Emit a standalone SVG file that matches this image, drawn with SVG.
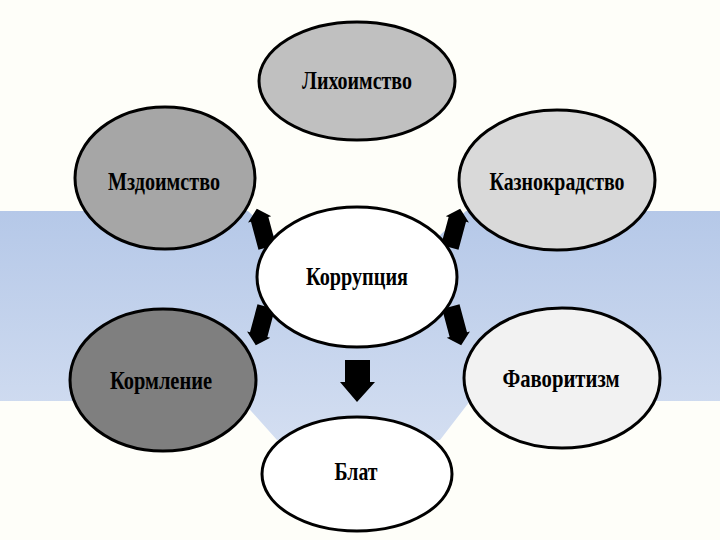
<svg xmlns="http://www.w3.org/2000/svg" width="720" height="540" viewBox="0 0 720 540">
<defs>
<linearGradient id="band" x1="0" y1="0" x2="0" y2="1">
<stop offset="0" stop-color="#B5C8E8"/>
<stop offset="1" stop-color="#D3DEF1"/>
</linearGradient>
<polygon id="arr" points="0,-20 12,-9 9,-9 9,20 -9,20 -9,-9 -12,-9"/>
</defs>
<style>
.n{stroke:#000;stroke-width:3}
.t{font-family:"Liberation Serif","Times New Roman",serif;font-weight:bold;font-size:25px;fill:#000;text-anchor:middle}
.a{fill:#000}
</style>
<rect width="720" height="540" fill="#FEFEF9"/>
<polygon fill="url(#band)" points="0,211 248,211 290,250 424,250 466,211 720,211 720,401 470,401 440,440 277,440 242,401 0,401"/>
<g id="connectors">
<use href="#arr" class="a" transform="translate(262,228) rotate(-15)"/>
<use href="#arr" class="a" transform="translate(455,228) rotate(15)"/>
<use href="#arr" class="a" transform="translate(261,326) rotate(195)"/>
<use href="#arr" class="a" transform="translate(456,326) rotate(165)"/>
<polygon class="a" points="345,360 370,360 370,382 375,382 357,402 340,382 345,382"/>
</g>
<g id="node-lihoimstvo">
<ellipse class="n" cx="357" cy="81" rx="98" ry="59" fill="#C0C0C0"/>
<text class="t" x="357" y="89" textLength="110" lengthAdjust="spacingAndGlyphs">Лихоимство</text>
</g>
<g id="node-mzdoimstvo">
<ellipse class="n" cx="165" cy="178" rx="90" ry="71" fill="#A6A6A6"/>
<text class="t" x="164" y="190" textLength="112" lengthAdjust="spacingAndGlyphs">Мздоимство</text>
</g>
<g id="node-kaznokradstvo">
<ellipse class="n" cx="557" cy="180" rx="98" ry="70" fill="#D9D9D9"/>
<text class="t" x="557" y="190" textLength="135" lengthAdjust="spacingAndGlyphs">Казнокрадство</text>
</g>
<g id="node-korruptsiya">
<ellipse class="n" cx="357" cy="277" rx="100" ry="70" fill="#FFFFFF"/>
<text class="t" x="357" y="285" textLength="102" lengthAdjust="spacingAndGlyphs">Коррупция</text>
</g>
<g id="node-kormlenie">
<ellipse class="n" cx="163" cy="380" rx="93" ry="71" fill="#7F7F7F"/>
<text class="t" x="161" y="389" textLength="102" lengthAdjust="spacingAndGlyphs">Кормление</text>
</g>
<g id="node-favoritizm">
<ellipse class="n" cx="562" cy="378" rx="98" ry="70" fill="#F2F2F2"/>
<text class="t" x="561" y="387" textLength="117" lengthAdjust="spacingAndGlyphs">Фаворитизм</text>
</g>
<g id="node-blat">
<ellipse class="n" cx="357" cy="474" rx="95" ry="57" fill="#FFFFFF"/>
<text class="t" x="356" y="480" textLength="43" lengthAdjust="spacingAndGlyphs">Блат</text>
</g>
</svg>
